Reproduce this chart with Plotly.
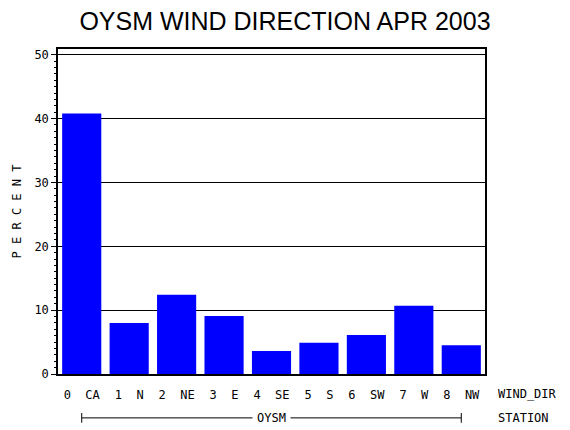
import plotly.graph_objects as go

# wind direction categories and percent of hours
directions = ["0  CA", "1  N", "2  NE", "3  E", "4  SE", "5  S", "6  SW", "7  W", "8  NW"]
percent = [40.8, 8.0, 12.4, 9.1, 3.6, 4.9, 6.1, 10.7, 4.5]
station = "OYSM"
y_ticks = [0, 10, 20, 30, 40, 50]

label_font = dict(family="DejaVu Sans Mono", size=12, color="black")

fig = go.Figure()
fig.add_trace(go.Bar(
    x=list(range(len(directions))),
    y=percent,
    marker=dict(color="#0000ff", line=dict(width=0)),
    showlegend=False,
))

fig.update_layout(
    width=570,
    height=430,
    paper_bgcolor="white",
    plot_bgcolor="white",
    margin=dict(l=58, r=85, t=49, b=56),
    bargap=0.175,
    title=dict(
        text="OYSM WIND DIRECTION APR 2003",
        x=0.5, xanchor="center", y=0.95, yanchor="middle",
        font=dict(family="Liberation Sans", size=25, color="black"),
    ),
    xaxis=dict(
        range=[-0.5, 8.5],
        tickmode="array",
        tickvals=list(range(len(directions))),
        ticktext=directions,
        ticks="",
        ticklabelstandoff=9,
        tickfont=label_font,
        showgrid=False,
        zeroline=False,
        automargin=False,
        showline=True, linecolor="black", linewidth=1.5, mirror=True,
    ),
    yaxis=dict(
        range=[0, 50.9],
        tickvals=y_ticks,
        ticks="outside", ticklen=5, tickcolor="black",
        tickfont=label_font,
        showgrid=True, gridcolor="black", gridwidth=1.2,
        zeroline=False,
        automargin=False,
        showline=True, linecolor="black", linewidth=1.5, mirror=True,
        minor=dict(dtick=1, ticks="outside", ticklen=2, tickcolor="black", showgrid=False),
        title=dict(text="P E R C E N T", font=label_font, standoff=10),
    ),
)

# axis names on the right
fig.add_annotation(text="WIND_DIR", xref="paper", yref="paper", x=1.025, y=-0.06,
                   xanchor="left", yanchor="middle", showarrow=False, font=label_font)
fig.add_annotation(text="STATION", xref="paper", yref="paper", x=1.025, y=-0.135,
                   xanchor="left", yanchor="middle", showarrow=False, font=label_font)

# station bracket under the categories
fig.add_shape(type="line", xref="x", yref="paper", x0=0, x1=len(directions) - 1,
              y0=-0.135, y1=-0.135, line=dict(color="black", width=1))
for xe in [0, len(directions) - 1]:
    fig.add_shape(type="line", xref="x", yref="paper", x0=xe, x1=xe,
                  y0=-0.12, y1=-0.15, line=dict(color="black", width=1))
fig.add_annotation(text=station, xref="x", yref="paper", x=(len(directions) - 1) / 2,
                   y=-0.135, xanchor="center", yanchor="middle", showarrow=False,
                   font=label_font, bgcolor="white", borderpad=4)

fig.write_html("out.html", config={"displayModeBar": False},
               post_script="document.body.style.margin='0';")
